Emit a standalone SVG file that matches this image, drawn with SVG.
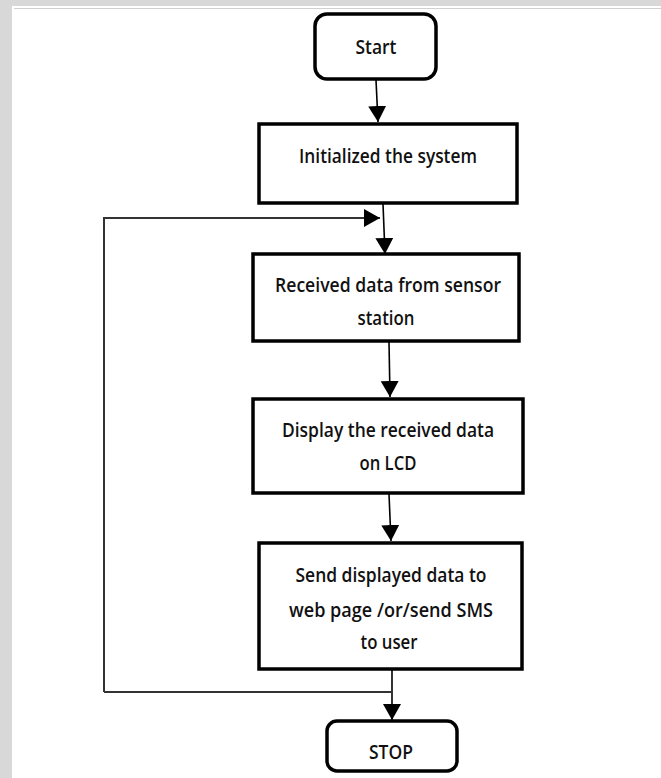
<svg xmlns="http://www.w3.org/2000/svg" width="661" height="778" viewBox="0 0 661 778">
<style>
.box{fill:#fff;stroke:#000;stroke-width:3.5}
.lbl{font-family:"Open Sans",Lato,"Liberation Sans",sans-serif;font-weight:600;font-size:19px;fill:#111;text-anchor:middle}
.con{fill:none;stroke:#000;stroke-width:1.6}
.loop{fill:none;stroke:#333;stroke-width:2}
</style>
<defs>
<marker id="ah" viewBox="0 0 16 18" refX="16" refY="9" markerWidth="16" markerHeight="18" markerUnits="userSpaceOnUse" orient="auto">
<path d="M0,0 L16,9 L0,18 Z" fill="#000"/>
</marker>
</defs>
<rect x="0" y="0" width="661" height="778" fill="#d8d8d8"/>
<rect x="12" y="6" width="649" height="772" fill="#fff"/>
<line x1="14" y1="8.5" x2="661" y2="8.5" stroke="#d0d0d0" stroke-width="1"/>

<g id="connectors">
<path class="con" d="M376,80 L378,122" marker-end="url(#ah)"/>
<path class="con" d="M383,204 L385,254" marker-end="url(#ah)"/>
<path class="loop" d="M104,692 L104,218 L380,218" marker-end="url(#ah)"/>
<path class="con" d="M389,342 L390,397" marker-end="url(#ah)"/>
<path class="con" d="M389,494 L391,541" marker-end="url(#ah)"/>
<path class="con" d="M392,670 L392,720" marker-end="url(#ah)"/>
<path class="loop" d="M104,692 L392,692"/>
</g>

<g id="start">
<rect class="box" x="315" y="14" width="121" height="65" rx="12"/>
<text class="lbl" x="376" y="54" textLength="41" lengthAdjust="spacingAndGlyphs">Start</text>
</g>

<g id="init">
<rect class="box" x="259" y="124" width="258" height="79"/>
<text class="lbl" x="388" y="163" textLength="178" lengthAdjust="spacingAndGlyphs">Initialized the system</text>
</g>

<g id="receive">
<rect class="box" x="253" y="254" width="266" height="87"/>
<text class="lbl" x="388" y="292" textLength="226" lengthAdjust="spacingAndGlyphs">Received data from sensor</text>
<text class="lbl" x="386" y="325" textLength="57" lengthAdjust="spacingAndGlyphs">station</text>
</g>

<g id="display">
<rect class="box" x="253" y="399" width="270" height="94"/>
<text class="lbl" x="388" y="437" textLength="212" lengthAdjust="spacingAndGlyphs">Display the received data</text>
<text class="lbl" x="388" y="470" textLength="57" lengthAdjust="spacingAndGlyphs">on LCD</text>
</g>

<g id="send">
<rect class="box" x="259" y="543" width="263" height="126"/>
<text class="lbl" x="391" y="582" textLength="191" lengthAdjust="spacingAndGlyphs">Send displayed data to</text>
<text class="lbl" x="391" y="617" textLength="204" lengthAdjust="spacingAndGlyphs">web page /or/send SMS</text>
<text class="lbl" x="389" y="649" textLength="57" lengthAdjust="spacingAndGlyphs">to user</text>
</g>

<g id="stop">
<rect class="box" x="327" y="721" width="130" height="50" rx="10"/>
<text class="lbl" x="391" y="759" textLength="44" lengthAdjust="spacingAndGlyphs">STOP</text>
</g>
</svg>
